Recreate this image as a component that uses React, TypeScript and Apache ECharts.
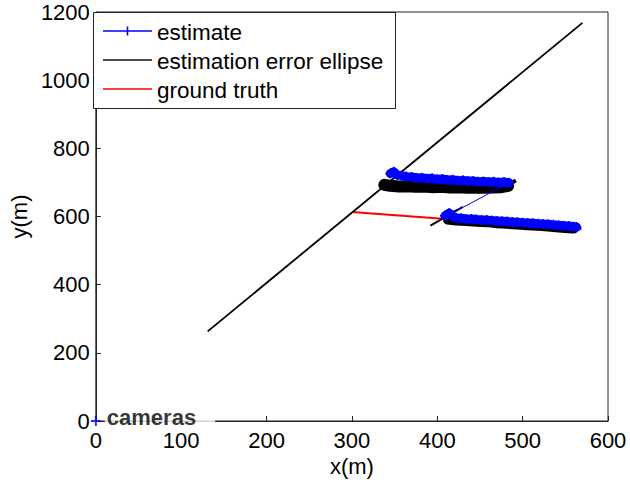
import React, { useEffect, useRef } from "react";
import * as echarts from "echarts";

const xTicks = [0, 100, 200, 300, 400, 500, 600];
const yTicks = [0, 200, 400, 600, 800, 1000, 1200];
const legendNames = ["estimate", "estimation error ellipse", "ground truth"];

// estimate track: upper pass, link, lower pass
const estimateUpper: number[][] = [
  [345, 726], [349, 731], [353, 722], [358, 720], [364, 717], [370, 716], [376, 713],
  [382, 714], [388, 711], [394, 712], [400, 709], [406, 710], [412, 707], [418, 708],
  [424, 705], [430, 706], [436, 704], [442, 704], [448, 702], [454, 703], [460, 701],
  [466, 702], [472, 700], [478, 701], [484, 699],
];
const estimateLink: number[][] = [[484, 699], [428, 624], [418, 616]];
const estimateLower: number[][] = [
  [409, 602], [414, 610], [418, 600], [422, 596], [428, 595], [434, 593], [440, 593],
  [446, 591], [452, 590], [458, 590], [464, 588], [470, 587], [476, 586], [482, 585],
  [488, 584], [494, 583], [500, 582], [506, 581], [512, 580], [518, 579], [524, 578],
  [530, 577], [536, 576], [542, 574], [548, 573], [554, 572], [560, 570], [563, 569],
];

// estimation error ellipses
const ellipseLong: number[][] = [[131, 263], [570, 1168]];
const ellipseUpper: number[][] = [
  [338, 693], [345, 690], [355, 688], [365, 689], [375, 687], [385, 688], [395, 686],
  [405, 687], [415, 685], [425, 686], [435, 684], [445, 685], [455, 684], [465, 685],
  [475, 686], [483, 690],
];
const ellipseUpperTip: number[][] = [[478, 684], [492, 706]];
const ellipseLowerStroke: number[][] = [[392, 573], [430, 628]];
const ellipseLower: number[][] = [
  [412, 590], [422, 587], [434, 585], [446, 583], [458, 582], [470, 579], [482, 577],
  [494, 575], [506, 573], [518, 571], [530, 569], [542, 566], [554, 564], [560, 563],
];

const groundTruth: number[][] = [[300, 613], [569, 563]];
const cameras: number[][] = [[0, 0]];

const PLUS = "path://M0,5L10,5M5,0L5,10";
const FONT = "Liberation Sans, Arial, sans-serif";

export default function App() {
  const ref = useRef<HTMLDivElement>(null);
  useEffect(() => {
    document.body.style.margin = "0";
    const chart = echarts.init(ref.current!, null, { renderer: "svg" });
    const black = "#000000";
    const blue = "#0000ff";
    const red = "#ff0000";
    const legendColors = [blue, "#111111", red];
    const rowY = [31, 60, 89];
    const legendGraphics: any[] = [
      {
        type: "rect",
        shape: { x: 93.5, y: 12.5, width: 302, height: 96 },
        style: { fill: "#ffffff", stroke: "#222", lineWidth: 1 },
        z: 100,
      },
    ];
    legendNames.forEach((n, i) => {
      legendGraphics.push({
        type: "line",
        shape: { x1: 103, y1: rowY[i], x2: 152, y2: rowY[i] },
        style: { stroke: legendColors[i], lineWidth: 1.6 },
        z: 101,
      });
      legendGraphics.push({
        type: "text",
        x: 157,
        y: rowY[i] + 1,
        style: {
          text: n,
          fontSize: 22.5,
          fontFamily: FONT,
          fill: "#000",
          verticalAlign: "middle",
          align: "left",
        },
        z: 101,
      });
    });
    legendGraphics.push({
      type: "line",
      shape: { x1: 127.5, y1: rowY[0] - 4.5, x2: 127.5, y2: rowY[0] + 4.5 },
      style: { stroke: blue, lineWidth: 1.6 },
      z: 101,
    });

    chart.setOption({
      animation: false,
      backgroundColor: "#ffffff",
      textStyle: { fontFamily: FONT },
      grid: {
        left: 93, top: 12, width: 515, height: 409,
        show: true, borderColor: "#222", borderWidth: 1, backgroundColor: "transparent",
      },
      graphic: legendGraphics,
      xAxis: {
        type: "value",
        min: xTicks[0], max: xTicks[xTicks.length - 1], interval: 100,
        name: "x(m)",
        nameLocation: "middle",
        nameGap: 32,
        nameTextStyle: { fontSize: 22, color: "#000", fontFamily: FONT },
        axisLine: { show: true, lineStyle: { color: "#222", width: 1 } },
        axisTick: { show: true, inside: true, length: 5, lineStyle: { color: "#222" } },
        axisLabel: { fontSize: 22, color: "#000", margin: 8, fontFamily: FONT, formatter: (v: number) => String(v) },
        splitLine: { show: false },
      },
      yAxis: {
        type: "value",
        min: yTicks[0], max: yTicks[yTicks.length - 1], interval: 200,
        name: "y(m)",
        nameLocation: "middle",
        nameGap: 64,
        nameRotate: 90,
        nameTextStyle: { fontSize: 22, color: "#000", fontFamily: FONT },
        axisLine: { show: true, lineStyle: { color: "#222", width: 1 } },
        axisTick: { show: true, inside: true, length: 5, lineStyle: { color: "#222" } },
        axisLabel: { fontSize: 22, color: "#000", margin: 6, fontFamily: FONT, formatter: (v: number) => String(v) },
        splitLine: { show: false },
      },
      series: [
        {
          name: "estimation error ellipse",
          type: "line",
          data: ellipseLong,
          symbol: "none",
          lineStyle: { color: black, width: 1.8 },
          z: 3,
        },
        {
          name: "ground truth",
          type: "line",
          data: groundTruth,
          symbol: "none",
          lineStyle: { color: red, width: 2 },
          z: 2,
        },
        {
          name: "estimation error ellipse",
          type: "line",
          data: ellipseUpper,
          symbol: "none",
          lineStyle: { color: black, width: 12, join: "round", cap: "round" },
          z: 3,
        },
        {
          name: "estimation error ellipse",
          type: "line",
          data: ellipseUpperTip,
          symbol: "none",
          lineStyle: { color: black, width: 4 },
          z: 3,
        },
        {
          name: "estimation error ellipse",
          type: "line",
          data: ellipseLowerStroke,
          symbol: "none",
          lineStyle: { color: black, width: 2 },
          z: 3,
        },
        {
          name: "estimation error ellipse",
          type: "line",
          data: ellipseLower,
          symbol: "none",
          lineStyle: { color: black, width: 9, join: "round", cap: "round" },
          z: 3,
        },
        {
          name: "estimate",
          type: "line",
          data: estimateLink,
          symbol: "none",
          lineStyle: { color: blue, width: 1 },
          z: 4,
        },
        {
          name: "estimate",
          type: "line",
          data: estimateUpper,
          symbol: PLUS,
          symbolSize: 10,
          showSymbol: true,
          lineStyle: { color: blue, width: 9, join: "round", cap: "round" },
          itemStyle: { color: blue, borderColor: blue, borderWidth: 1.5 },
          z: 4,
        },
        {
          name: "estimate",
          type: "line",
          data: estimateLower,
          symbol: PLUS,
          symbolSize: 10,
          showSymbol: true,
          lineStyle: { color: blue, width: 9, join: "round", cap: "round" },
          itemStyle: { color: blue, borderColor: blue, borderWidth: 1.5 },
          z: 4,
        },
        {
          name: "cameras",
          type: "scatter",
          data: cameras,
          symbol: PLUS,
          symbolSize: 10,
          itemStyle: { color: blue, borderColor: blue, borderWidth: 2 },
          label: {
            show: true,
            position: "right",
            distance: 3,
            offset: [0, -4],
            formatter: "cameras",
            fontSize: 22,
            fontWeight: "bold",
            color: "#000",
            fontFamily: FONT,
            lineHeight: 16,
            backgroundColor: "#ffffff",
            padding: [0, 19, 0, 2],
          },
          z: 5,
        },
      ],
    });
    return () => chart.dispose();
  }, []);
  return (
    <div
      ref={ref}
      style={{ position: "absolute", left: 0, top: 0, width: 630, height: 485 }}
    />
  );
}
